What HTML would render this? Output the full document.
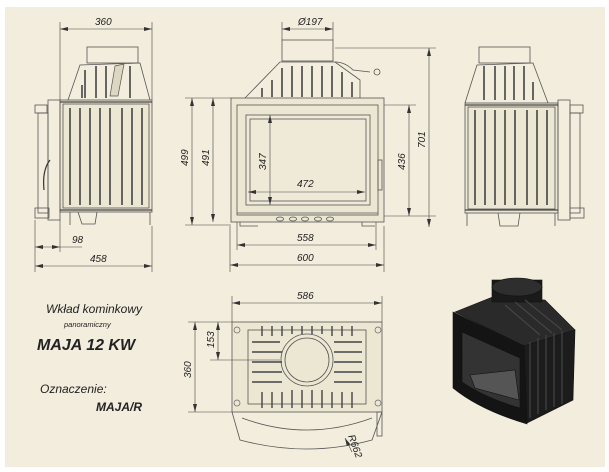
<!DOCTYPE html>
<html><head><meta charset="utf-8"><style>
html,body{margin:0;padding:0;background:#fff}
svg{display:block}
text{font-family:"Liberation Sans",sans-serif;font-style:italic;fill:#222}
</style></head><body>
<svg width="609" height="472" viewBox="0 0 609 472" xmlns="http://www.w3.org/2000/svg">
<defs>
<marker id="a" markerWidth="8" markerHeight="6" refX="8" refY="3" orient="auto-start-reverse" markerUnits="userSpaceOnUse"><path d="M0,1 L8,3 L0,5z" fill="#333"/></marker>
</defs>
<rect x="5" y="7" width="600" height="460" fill="#f2eddc"/>
<g stroke="#555" stroke-width="0.8" fill="none">
<!-- LEFT SIDE VIEW -->
<rect x="87" y="47" width="51" height="16"/>
<path d="M68,100 L80,65 L140,63 L150,100"/>
<rect x="60" y="100" width="92" height="112" fill="#ece7d3"/>
<rect x="63" y="104" width="86" height="104"/>
<rect x="35" y="105" width="12" height="8"/><rect x="38" y="113" width="10" height="100"/><rect x="35" y="208" width="14" height="10"/>
<rect x="48" y="100" width="12" height="120"/>
<path d="M70,212 L70,225 M150,212 L150,225 M78,212 L82,224 L95,224 L97,212"/>
</g>
<g stroke="#444" stroke-width="1.6">
<path d="M70,108 V205 M80,108 V205 M90,108 V205 M100,108 V205 M110,108 V205 M122,108 V205 M132,108 V205 M142,108 V205"/>
<path d="M85,70 V98 M96,66 V98 M106,66 V98 M130,66 V98 M82,85 V98"/>
<path d="M60,102 H152 M60,210 H152" stroke-width="1.2"/>
</g>
<path d="M115,66 L124,64 L118,96 L110,96z" fill="#ddd6c0" stroke="#555" stroke-width="0.7"/>
<path d="M50,160 q-8,10 -6,30" stroke="#333" stroke-width="1.2" fill="none"/>
<!-- front view -->
<g stroke="#555" stroke-width="0.8" fill="none">
<rect x="282" y="40" width="51" height="21"/>
<path d="M245,98 L280,62 L335,62 L360,80 L360,98"/>
<path d="M335,62 q10,0 18,8 L370,72"/>
<circle cx="377" cy="72" r="3"/>
<rect x="231" y="98" width="153" height="124" fill="#ece7d3"/>
<rect x="237" y="105" width="141" height="110"/>
<rect x="246" y="115" width="124" height="90" fill="#efe9d8"/>
<rect x="250" y="119" width="116" height="82"/>
<path d="M237,213 H378 M240,222 V226 H258 M362,222 V226 H375"/>
<ellipse cx="280" cy="219" rx="3.5" ry="2"/><ellipse cx="293" cy="219" rx="3.5" ry="2"/><ellipse cx="305" cy="219" rx="3.5" ry="2"/><ellipse cx="318" cy="219" rx="3.5" ry="2"/><ellipse cx="330" cy="219" rx="3.5" ry="2"/>
<rect x="378" y="160" width="4" height="30"/>
</g>
<g stroke="#444" stroke-width="1.6">
<path d="M272,80 V97 M282,68 V97 M292,66 V97 M302,66 V97 M312,66 V97 M322,66 V97 M332,66 V97 M342,72 V97 M262,88 V97 M352,82 V97"/>
</g>
<!-- right side view -->
<g stroke="#555" stroke-width="0.8" fill="none">
<rect x="479" y="47" width="51" height="16"/>
<path d="M465,103 L477,65 L533,63 L548,103"/>
<rect x="465" y="103" width="93" height="110" fill="#ece7d3"/>
<rect x="468" y="107" width="87" height="102"/>
<rect x="558" y="100" width="12" height="120"/>
<rect x="570" y="105" width="13" height="8"/><rect x="570" y="113" width="10" height="100"/><rect x="570" y="208" width="14" height="10"/>
<path d="M467,213 L467,226 M555,213 V226 M520,213 L518,226 L500,226 L498,213"/>
</g>
<g stroke="#444" stroke-width="1.6">
<path d="M475,110 V205 M485,110 V205 M495,110 V205 M505,110 V205 M515,110 V205 M527,110 V205 M537,110 V205 M547,110 V205"/>
<path d="M484,66 V100 M495,66 V100 M505,66 V100 M514,66 V100 M524,66 V100 M533,82 V100"/>
<path d="M465,105 H558 M465,210 H558" stroke-width="1.2"/>
</g>
<!-- top view -->
<g stroke="#555" stroke-width="0.8" fill="none">
<rect x="232" y="322" width="150" height="90" fill="#ece7d3"/>
<rect x="248" y="330" width="118" height="74"/>
<circle cx="307" cy="360" r="26"/><circle cx="307" cy="360" r="22"/>
<path d="M232,412 L240,440 Q307,458 372,440 L382,412"/>
<path d="M242,418 Q307,442 372,418"/>
<rect x="377" y="412" width="5" height="24"/>
</g>
<g stroke="#444" stroke-width="1.4">
<path d="M252,342 H280 M252,352 H282 M252,362 H282 M252,372 H282 M252,382 H282 M334,342 H362 M334,352 H362 M334,362 H362 M334,372 H362 M334,382 H362"/>
<path d="M262,326 V336 M272,326 V336 M282,326 V336 M292,326 V334 M302,326 V334 M312,326 V334 M322,326 V334 M332,326 V336 M342,326 V336 M352,326 V336"/>
<path d="M262,392 V408 M272,392 V408 M282,392 V408 M292,390 V408 M302,390 V408 M312,390 V408 M322,390 V408 M332,392 V408 M342,392 V408 M352,392 V408"/>
</g>
<g fill="none" stroke="#666" stroke-width="0.7"><circle cx="237" cy="330" r="3"/><circle cx="378" cy="330" r="3"/><circle cx="237" cy="403" r="3"/><circle cx="378" cy="403" r="3"/></g>
<!-- dimension lines -->
<g stroke="#444" stroke-width="0.6" fill="none">
<path d="M60,22 V100 M152,22 V100 M35,220 V272 M152,226 V272 M60,220 V252 M230,226 V272 M384,226 V272 M237,222 V250 M376,222 V250 M282,22 V40 M333,22 V40"/>
<path d="M185,98 H231 M185,225 H231 M335,48 H436 M384,105 H416 M384,216 H436 M225,322 H232 M188,322 H232 M188,412 H232 M210,360 H280 M232,296 V322 M382,296 V322"/>
<path d="M60,29 H152" marker-start="url(#a)" marker-end="url(#a)"/>
<path d="M282,29 H333" marker-start="url(#a)" marker-end="url(#a)"/>
<path d="M35,247 H60" marker-start="url(#a)" marker-end="url(#a)"/><path d="M60,247 H82"/>
<path d="M35,266 H152" marker-start="url(#a)" marker-end="url(#a)"/>
<path d="M192,98 V225" marker-start="url(#a)" marker-end="url(#a)"/>
<path d="M213,98 V222" marker-start="url(#a)" marker-end="url(#a)"/>
<path d="M270,115 V205" marker-start="url(#a)" marker-end="url(#a)"/>
<path d="M248,192 H365" marker-start="url(#a)" marker-end="url(#a)"/>
<path d="M409,105 V216" marker-start="url(#a)" marker-end="url(#a)"/>
<path d="M429,48 V227" marker-start="url(#a)" marker-end="url(#a)"/>
<path d="M237,245 H376" marker-start="url(#a)" marker-end="url(#a)"/>
<path d="M230,265 H384" marker-start="url(#a)" marker-end="url(#a)"/>
<path d="M232,303 H382" marker-start="url(#a)" marker-end="url(#a)"/>
<path d="M218,322 V360" marker-start="url(#a)" marker-end="url(#a)"/>
<path d="M195,322 V412" marker-start="url(#a)" marker-end="url(#a)"/>
<path d="M352,452 L345,438" marker-end="url(#a)"/>
</g>
<g font-size="10">
<text x="95" y="25">360</text>
<text x="298" y="25">Ø197</text>
<text x="72" y="243">98</text>
<text x="90" y="262">458</text>
<text x="297" y="187">472</text>
<text x="297" y="241">558</text>
<text x="297" y="261">600</text>
<text x="297" y="299">586</text>
<text transform="translate(188,166) rotate(-90)">499</text>
<text transform="translate(209,166) rotate(-90)">491</text>
<text transform="translate(266,170) rotate(-90)">347</text>
<text transform="translate(405,170) rotate(-90)">436</text>
<text transform="translate(425,148) rotate(-90)">701</text>
<text transform="translate(214,348) rotate(-90)">153</text>
<text transform="translate(191,378) rotate(-90)">360</text>
<text transform="translate(348,436) rotate(70)">R662</text>
</g>
<text x="46" y="313" font-size="12">Wkład kominkowy</text>
<text x="64" y="327" font-size="7.5">panoramiczny</text>
<text x="37" y="350" font-size="16" font-weight="bold">MAJA 12 KW</text>
<text x="40" y="393" font-size="12">Oznaczenie:</text>
<text x="96" y="411" font-size="12" font-weight="bold">MAJA/R</text>
<!-- 3D -->
<g stroke="#111" stroke-width="0.6">
<path d="M455,312 L495,296 L545,300 L575,330 L524,346z" fill="#2a2a2a"/>
<path d="M524,346 L575,330 L573,400 L527,423z" fill="#1c1c1c"/>
<path d="M453,312 L524,346 L527,424 Q480,410 453,388z" fill="#141414"/>
<path d="M462,332 L520,358 L520,408 Q485,398 462,382z" fill="#333"/>
<path d="M470,375 L515,370 L519,400 L475,388z" fill="#555"/>
<rect x="492" y="280" width="50" height="22" fill="#1a1a1a"/>
<ellipse cx="517" cy="287" rx="25" ry="9" fill="#2e2e2e"/>
</g>
<g stroke="#444" stroke-width="1.2"><path d="M530,342 V418 M538,338 V414 M546,335 V410 M554,333 V407 M562,331 V404"/><path d="M505,305 L540,335 M515,302 L552,333 M525,300 L562,330"/></g>
</svg>
</body></html>
